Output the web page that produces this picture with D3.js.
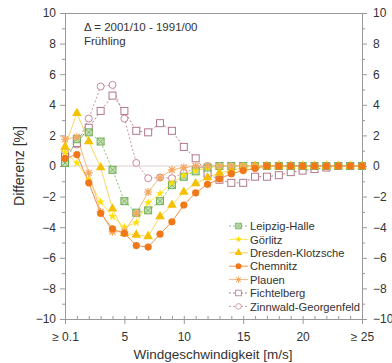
<!DOCTYPE html>
<html><head><meta charset="utf-8">
<script src="https://cdn.jsdelivr.net/npm/d3@7"></script>
<style>body{margin:0;background:#fff}svg{display:block;font-family:"Liberation Sans",Arial,sans-serif}</style>
</head><body><svg id="c" width="392" height="363"></svg>
<script>
const xValues = d3.range(0, 26);
const xTickValues = [0, 5, 10, 15, 20, 25];
const xTickLabels = ["\u2265 0.1", "5", "10", "15", "20", "\u2265 25"];
const yTickValues = [-10, -8, -6, -4, -2, 0, 2, 4, 6, 8, 10];
const seriesNames = ["Leipzig-Halle", "Görlitz", "Dresden-Klotzsche", "Chemnitz", "Plauen", "Fichtelberg", "Zinnwald-Georgenfeld"];
const leipzig   = [0.2, 1.75, 2.2, 1.6, -0.25, -2.3, -3.05, -2.9, -2.3, -1.25, -0.7, -0.35, -0.1, 0, 0, 0, 0, 0, 0, 0, 0, 0, 0, 0, 0, 0];
const goerlitz  = [0.9, 0.2, -0.9, -2.35, -3.3, -4.0, -3.7, -2.4, -1.8, -1.1, -0.6, -0.3, -0.1, 0, 0, 0, 0, 0, 0, 0, 0, 0, 0, 0, 0, 0];
const dresden   = [1.25, 3.45, 1.6, -0.1, -2.8, -4.4, -4.5, -4.6, -3.3, -2.55, -1.7, -1.15, -0.75, -0.45, -0.3, -0.1, 0, 0, 0, 0, 0, 0, 0, 0, 0, 0];
const chemnitz  = [0.5, 0.75, -1.1, -3.1, -4.1, -4.4, -5.2, -5.3, -4.45, -3.65, -2.55, -1.75, -1.2, -0.85, -0.5, -0.3, -0.15, 0, 0, 0, 0, 0, 0, 0, 0, 0];
const plauen    = [1.75, 1.9, -0.45, -3.0, -4.3, -4.3, -3.1, -1.7, -0.75, -0.25, -0.1, 0, 0, 0, 0, 0, 0, 0, 0, 0, 0, 0, 0, 0, 0, 0];
const fichtel   = [0.6, 1.5, 2.5, 3.6, 4.6, 3.6, 2.3, 2.2, 2.8, 2.3, 1.25, 0.5, -0.5, -0.9, -1.1, -1.1, -0.7, -0.7, -0.6, -0.4, -0.3, -0.2, -0.1, 0, 0, 0];
const zinnwald  = [0.9, 1.4, 3.1, 5.2, 5.3, 3.1, 0.2, -0.8, -0.75, -0.8, -0.45, -0.15, 0, 0, 0, 0, 0, 0, 0, 0, 0, 0, 0, 0, 0, 0];
const seriesValues = [leipzig, goerlitz, dresden, chemnitz, plauen, fichtel, zinnwald];
const colors = ["#6fae58", "#ffe000", "#f5c000", "#f07818", "#f4a860", "#b07888", "#c88898"];
const lineColors = ["#8cbf78", "#ffe84a", "#f8d860", "#f09048", "#f6b880", "#b08090", "#c898a8"];
const dashes = ["2,2", null, null, null, null, "2,2", "2,2"];
const markers = ["xsquare", "dot", "triangle", "circleFilled", "asterisk", "square", "circle"];

const svg = d3.select("#c");
const L = 65, R = 362, T = 13, B = 319;
const x = d3.scaleLinear().domain([0, 25]).range([L, R]);
const y = d3.scaleLinear().domain([-10, 10]).range([B, T]);
const textCol = "#333", axisCol = "#999";

svg.append("line").attr("x1", L).attr("x2", R).attr("y1", y(0)).attr("y2", y(0)).attr("stroke", "#d8d0d0").attr("stroke-width", 1);
svg.append("line").attr("x1", L).attr("x2", R).attr("y1", T + 0.5).attr("y2", T + 0.5).attr("stroke", axisCol);

const yl = svg.append("g").attr("transform", `translate(${L},0)`)
  .call(d3.axisLeft(y).tickValues(yTickValues).tickSize(5).tickPadding(4).tickFormat(d3.format("d")));
yl.append("g").call(d3.axisLeft(y).tickValues(d3.range(-9, 10, 2)).tickSize(3).tickFormat(""));
const yr = svg.append("g").attr("transform", `translate(${R},0)`)
  .call(d3.axisRight(y).tickValues(yTickValues).tickSize(5).tickPadding(6).tickFormat(d3.format("d")));
yr.append("g").call(d3.axisRight(y).tickValues(d3.range(-9, 10, 2)).tickSize(3).tickFormat(""));
const xb = svg.append("g").attr("transform", `translate(0,${B})`)
  .call(d3.axisBottom(x).tickValues(xTickValues).tickSize(5).tickPadding(8).tickFormat((d, i) => xTickLabels[i]));
xb.append("g").call(d3.axisTop(x).tickValues(xValues).tickSize(3).tickFormat(""));

svg.selectAll(".domain").attr("stroke", axisCol);
svg.selectAll(".tick line").attr("stroke", axisCol);
svg.selectAll(".tick text").attr("fill", textCol).attr("font-size", 12).attr("font-family", "Liberation Sans, Arial, sans-serif");

svg.append("text").attr("x", 213).attr("y", 359).attr("text-anchor", "middle").attr("fill", textCol).attr("font-size", 13.5).text("Windgeschwindigkeit [m/s]");
svg.append("text").attr("transform", `translate(24,${y(0)}) rotate(-90)`).attr("text-anchor", "middle").attr("fill", textCol).attr("font-size", 14).text("Differenz [%]");
svg.append("text").attr("x", 84).attr("y", 31).attr("fill", textCol).attr("font-size", 11.5).text("\u0394 = 2001/10 - 1991/00");
svg.append("text").attr("x", 84).attr("y", 45).attr("fill", textCol).attr("font-size", 11.5).text("Frühling");

function drawMarker(g, type, col) {
  switch (type) {
    case "xsquare":
      g.append("rect").attr("x", -3.5).attr("y", -3.5).attr("width", 7).attr("height", 7).attr("fill", "#c8e0b8").attr("stroke", col).attr("stroke-width", 1);
      g.append("path").attr("d", "M-3.5,-3.5L3.5,3.5M-3.5,3.5L3.5,-3.5").attr("stroke", col).attr("stroke-width", 0.8);
      break;
    case "dot":
      g.append("path").attr("d", d3.symbol(d3.symbolStar, 22)()).attr("fill", col);
      break;
    case "triangle":
      g.append("path").attr("d", d3.symbol(d3.symbolTriangle, 40)()).attr("fill", col);
      break;
    case "circleFilled":
      g.append("circle").attr("r", 3.6).attr("fill", col);
      break;
    case "asterisk":
      g.append("path").attr("d", "M-4,0L4,0M0,-4L0,4M-3,-3L3,3M-3,3L3,-3").attr("stroke", col).attr("stroke-width", 1.2);
      g.append("circle").attr("r", 1.6).attr("fill", col);
      break;
    case "square":
      g.append("rect").attr("x", -3.5).attr("y", -3.5).attr("width", 7).attr("height", 7).attr("fill", "#fff").attr("stroke", col).attr("stroke-width", 1);
      break;
    case "circle":
      g.append("circle").attr("r", 3.5).attr("fill", "#fff").attr("stroke", col).attr("stroke-width", 1);
      break;
  }
}

const line = d3.line().x((d, i) => x(xValues[i])).y(d => y(d));
const order = [6, 5, 0, 1, 2, 4, 3];
order.forEach(s => {
  svg.append("path").datum(seriesValues[s]).attr("d", line).attr("fill", "none")
    .attr("stroke", lineColors[s]).attr("stroke-width", 1).attr("stroke-dasharray", dashes[s]);
});
order.forEach(s => {
  seriesValues[s].forEach((v, i) => {
    const g = svg.append("g").attr("transform", `translate(${x(xValues[i])},${y(v)})`);
    drawMarker(g, markers[s], colors[s]);
  });
});

seriesNames.forEach((n, i) => {
  const ly = 226 + i * 13.4;
  const g = svg.append("g");
  g.append("line").attr("x1", 229).attr("x2", 248).attr("y1", ly).attr("y2", ly)
    .attr("stroke", lineColors[i]).attr("stroke-dasharray", dashes[i]);
  const m = g.append("g").attr("transform", `translate(238.5,${ly}) scale(0.8)`);
  drawMarker(m, markers[i], colors[i]);
  g.append("text").attr("x", 250).attr("y", ly + 4.2).attr("fill", textCol).attr("font-size", 11.2).text(n);
});
</script></body></html>
